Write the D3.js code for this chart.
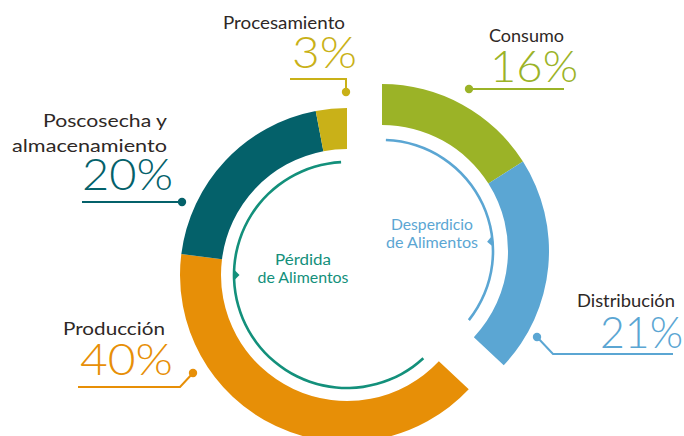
<!DOCTYPE html>
<html>
<head>
<meta charset="utf-8">
<script src="https://cdn.jsdelivr.net/npm/d3@7"></script>
<style>
  html, body { margin: 0; padding: 0; background: #ffffff; }
  svg { display: block; }
  text { font-family: "Lato", "Noto Sans", sans-serif; }
</style>
</head>
<body>
<svg id="chart" width="684" height="436"></svg>
<script>
// ---- data ----
const categories = ["Consumo", "Distribución", "Producción", "Poscosecha y\nalmacenamiento", "Procesamiento"];
const values = [16, 21, 40, 20, 3];
const groups = ["desperdicio", "desperdicio", "perdida", "perdida", "perdida"];
const colors = ["#9bb327", "#5ba6d3", "#e78f07", "#04616a", "#c9b118"];
const groupTitles = { perdida: ["Pérdida", "de Alimentos"], desperdicio: ["Desperdicio", "de Alimentos"] };
const groupColors = { perdida: "#13907b", desperdicio: "#5ba6d3" };

// ---- layout ----
const W = 684, H = 436;
const centers = { perdida: [347, 275], desperdicio: [382, 251] };
const rInner = 126, rOuter = 167;
const ringR = { perdida: 113, desperdicio: 111 };
const ringSpan = { perdida: [137.5, 357], desperdicio: [2, 128.5] };   // degrees
const arrowAt = { perdida: 270, desperdicio: 85 };

const labelLayout = [
  { lx: 564, ly: 42, lw: [75], px: 490, py: 82, pw: 88, leader: [[469, 89], [564, 89]], dot: [469, 89] },
  { lx: 675, ly: 307, lw: [98], px: 600, py: 348, pw: 83, leader: [[537, 337], [553, 354], [673, 354]], dot: [537, 337] },
  { lx: 165, ly: 335, lw: [102], px: 80, py: 375, pw: 93, leader: [[78, 387], [180, 387], [193, 373]], dot: [193, 373] },
  { lx: 167, ly: 127, lw: [124, 155], px: 82, py: 190, pw: 91, leader: [[82, 202], [182, 202]], dot: [182, 202] },
  { lx: 345, ly: 29, lw: [122], px: 292, py: 68, pw: 65, leader: [[290, 79], [346, 79], [346, 92]], dot: [346, 92] }
];
const innerTitlePos = { perdida: [303, 265, [56, 91]], desperdicio: [432, 230, [82, 92]] };

const svg = d3.select("#chart");
svg.append("rect").attr("width", W).attr("height", H).attr("fill", "#fff");

const pie = d3.pie().sort(null).value(d => d.value);
const data = categories.map((c, i) => ({ name: c, value: values[i], group: groups[i], color: colors[i] }));
const arcs = pie(data);
const arc = d3.arc().innerRadius(rInner).outerRadius(rOuter);

svg.append("g").selectAll("path").data(arcs).join("path")
  .attr("transform", d => `translate(${centers[d.data.group]})`)
  .attr("d", arc)
  .attr("fill", d => d.data.color);

// inner rings with arrow markers
const deg = Math.PI / 180;
Object.keys(centers).forEach(g => {
  const [cx, cy] = centers[g];
  const r = ringR[g];
  const gg = svg.append("g").attr("transform", `translate(${cx},${cy})`);
  gg.append("path")
    .attr("d", d3.arc().innerRadius(r - 1.3).outerRadius(r + 1.3)
      .startAngle(ringSpan[g][0] * deg).endAngle(ringSpan[g][1] * deg)())
    .attr("fill", groupColors[g]);
  const a = arrowAt[g] * deg;
  const px = r * Math.sin(a), py = -r * Math.cos(a);
  const ux = -Math.sin(a), uy = Math.cos(a); // inward
  const tx = Math.cos(a), ty = Math.sin(a); // tangent
  const s = 5.5;
  const pts = [[px + ux * s, py + uy * s], [px + tx * s, py + ty * s], [px - tx * s, py - ty * s]];
  gg.append("path").attr("d", "M" + pts.map(p => p.join(",")).join("L") + "Z").attr("fill", groupColors[g]);
  const [tx0, ty0, lens] = innerTitlePos[g];
  groupTitles[g].forEach((t, i) => {
    svg.append("text").attr("x", tx0).attr("y", ty0 + i * 18)
      .attr("text-anchor", "middle").attr("font-size", 15.5).attr("fill", groupColors[g])
      .attr("textLength", lens[i]).attr("lengthAdjust", "spacingAndGlyphs").text(t);
  });
});

// labels
const lab = svg.append("g");
data.forEach((d, i) => {
  const L = labelLayout[i];
  d.name.split("\n").forEach((t, k) => {
    lab.append("text").attr("x", L.lx).attr("y", L.ly + k * 25)
      .attr("text-anchor", "end").attr("font-size", 18).attr("fill", "#2e2826")
      .attr("textLength", L.lw[k]).attr("lengthAdjust", "spacingAndGlyphs").text(t);
  });
  lab.append("text").attr("x", L.px).attr("y", L.py)
    .attr("text-anchor", "start").attr("font-size", 43).attr("font-weight", 300)
    .attr("fill", d.color).attr("textLength", L.pw).attr("lengthAdjust", "spacingAndGlyphs")
    .text(d.value + "%");
  lab.append("path").attr("d", d3.line()(L.leader)).attr("fill", "none")
    .attr("stroke", d.color).attr("stroke-width", 2);
  lab.append("circle").attr("cx", L.dot[0]).attr("cy", L.dot[1]).attr("r", 4.2).attr("fill", d.color);
});
</script>
</body>
</html>
